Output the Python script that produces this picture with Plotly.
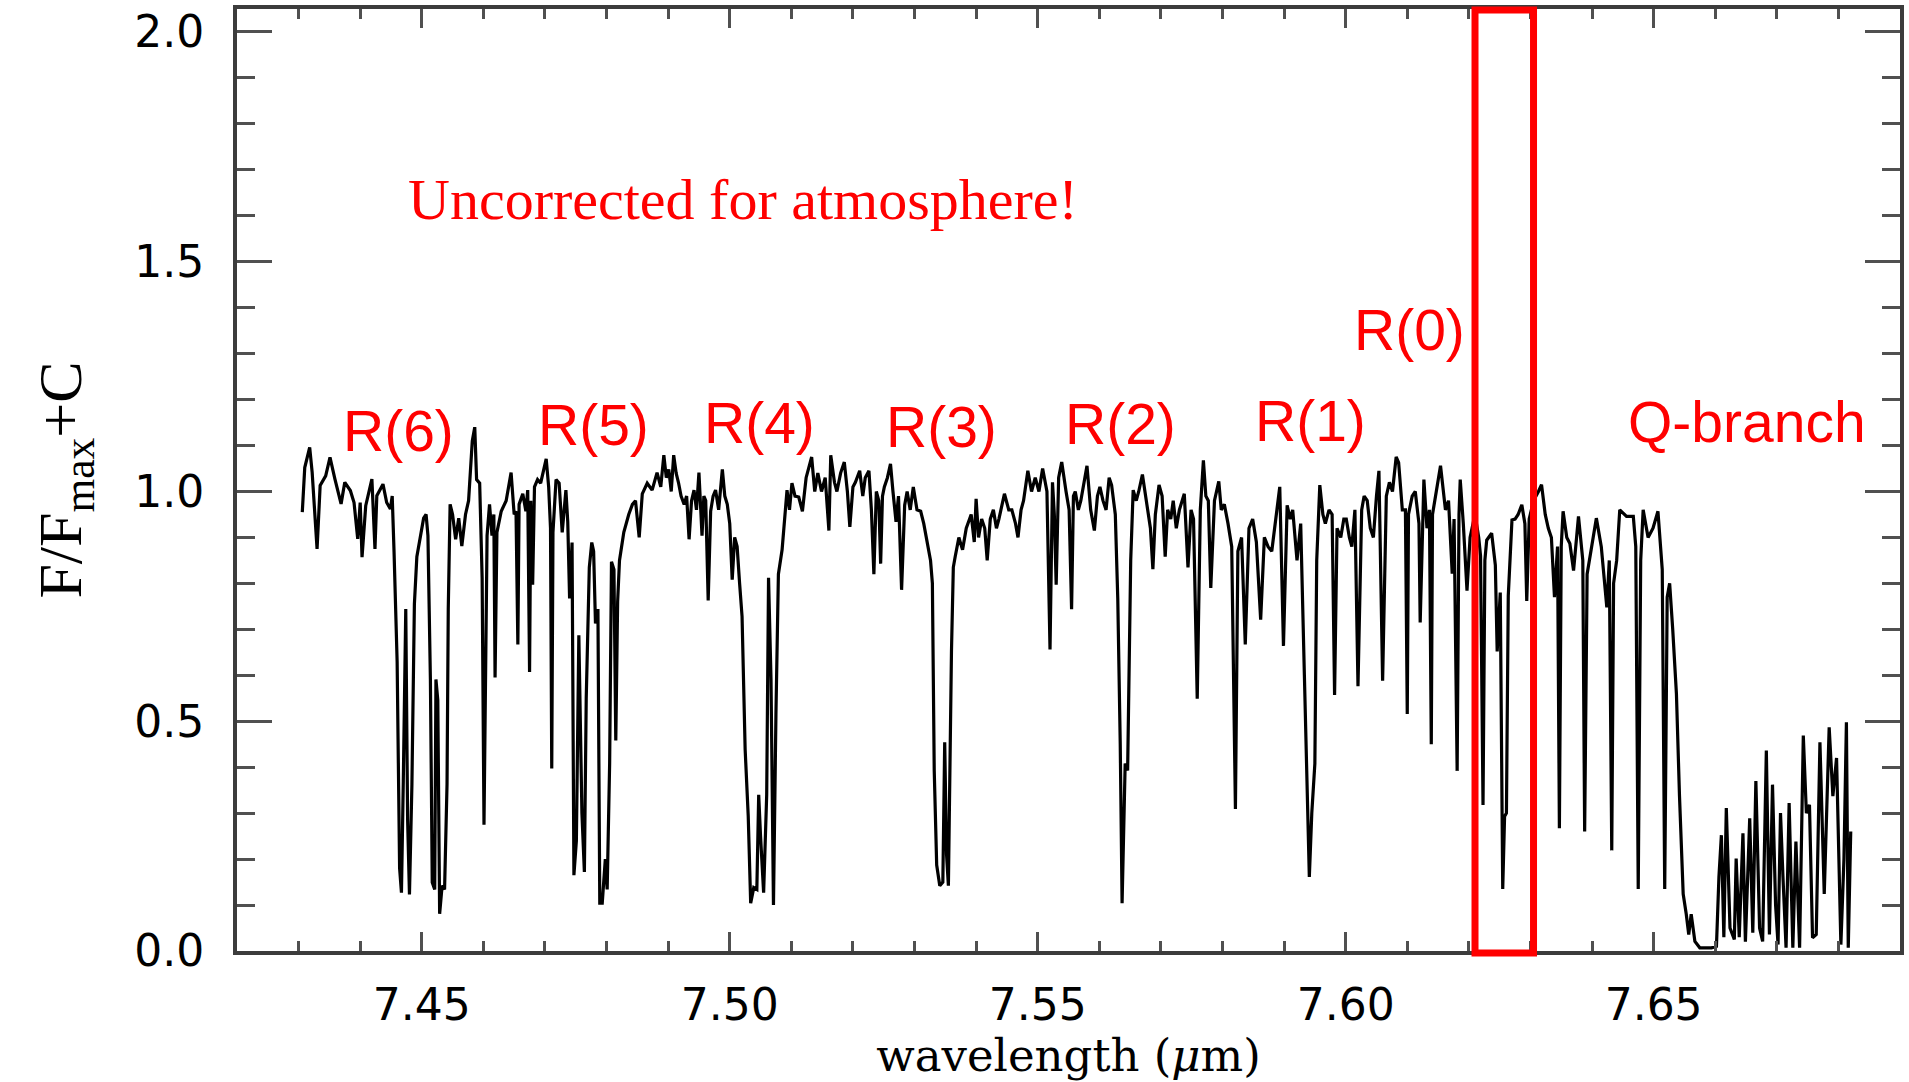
import plotly.graph_objects as go

# ---- spectrum ----
wavelength = [
    7.4306, 7.4310, 7.4318, 7.4322, 7.4330, 7.4335, 7.4344, 7.4351, 7.4359, 7.4369,
    7.4375, 7.4384, 7.4390, 7.4396, 7.4400, 7.4403, 7.4409, 7.4419, 7.4424, 7.4427,
    7.4437, 7.4443, 7.4449, 7.4452, 7.4455,
    7.4460, 7.4464, 7.4467, 7.4470, 7.4474, 7.4477, 7.4480, 7.4484, 7.4488, 7.4492,
    7.4497, 7.4503, 7.4507, 7.4510, 7.4514, 7.4517, 7.4521, 7.4523, 7.4526, 7.4529,
    7.4533, 7.4537, 7.4541, 7.4543, 7.4546, 7.4550, 7.4555, 7.4560, 7.4565, 7.4571,
    7.4576, 7.4582, 7.4586, 7.4589, 7.4594, 7.4598, 7.4601, 7.4603, 7.4606, 7.4610,
    7.4614, 7.4617, 7.4619, 7.4622, 7.4629, 7.4637, 7.4645, 7.4650, 7.4653, 7.4656,
    7.4658, 7.4664, 7.4669, 7.4672, 7.4675, 7.4677, 7.4680, 7.4683, 7.4688, 7.4693,
    7.4702, 7.4706, 7.4709, 7.4711, 7.4713, 7.4718, 7.4723, 7.4728, 7.4734, 7.4737,
    7.4740, 7.4744,
    7.4747, 7.4751, 7.4755, 7.4760, 7.4764, 7.4767, 7.4772, 7.4776, 7.4779, 7.4782,
    7.4786, 7.4789, 7.4793, 7.4798, 7.4801, 7.4805, 7.4808, 7.4812, 7.4815, 7.4818,
    7.4821, 7.4828, 7.4836, 7.4842, 7.4847, 7.4853, 7.4858, 7.4866, 7.4874, 7.4882,
    7.4888, 7.4893, 7.4897, 7.4901, 7.4905, 7.4909, 7.4913, 7.4917, 7.4921, 7.4926,
    7.4930, 7.4934, 7.4938, 7.4942, 7.4946, 7.4950, 7.4955, 7.4958, 7.4961, 7.4965,
    7.4969, 7.4973, 7.4977, 7.4982, 7.4988, 7.4992, 7.4996, 7.5000, 7.5004, 7.5008,
    7.5012, 7.5016, 7.5020,
    7.5025, 7.5030, 7.5034, 7.5039, 7.5044, 7.5047, 7.5050, 7.5055, 7.5060, 7.5063,
    7.5067, 7.5071, 7.5075, 7.5079, 7.5085, 7.5093, 7.5097, 7.5101, 7.5106, 7.5112,
    7.5118, 7.5124, 7.5133, 7.5138, 7.5143, 7.5149, 7.5155, 7.5161, 7.5164, 7.5170,
    7.5174, 7.5180, 7.5186, 7.5191, 7.5195, 7.5200, 7.5204, 7.5211, 7.5216, 7.5220,
    7.5226, 7.5230, 7.5234, 7.5238, 7.5242, 7.5245, 7.5248, 7.5251, 7.5256, 7.5261,
    7.5265, 7.5270, 7.5274, 7.5279, 7.5284, 7.5288, 7.5293, 7.5298, 7.5304, 7.5310,
    7.5315, 7.5319, 7.5326,
    7.5329, 7.5332, 7.5336, 7.5341, 7.5346, 7.5349, 7.5352, 7.5355, 7.5360, 7.5363,
    7.5366, 7.5372, 7.5378, 7.5384, 7.5392, 7.5397, 7.5400, 7.5404, 7.5409, 7.5414,
    7.5418, 7.5423, 7.5428, 7.5433, 7.5437, 7.5446, 7.5453, 7.5458, 7.5464, 7.5468,
    7.5473, 7.5477, 7.5484, 7.5490, 7.5496, 7.5502, 7.5508, 7.5515, 7.5520, 7.5524,
    7.5527, 7.5530, 7.5534, 7.5539, 7.5546, 7.5551, 7.5555, 7.5558, 7.5561, 7.5566,
    7.5570, 7.5575, 7.5580, 7.5586, 7.5592, 7.5597, 7.5601, 7.5606, 7.5611, 7.5616,
    7.5620, 7.5626,
    7.5630, 7.5634, 7.5637, 7.5642, 7.5646, 7.5651, 7.5655, 7.5660, 7.5664, 7.5670,
    7.5675, 7.5679, 7.5683, 7.5687, 7.5691, 7.5697, 7.5702, 7.5707, 7.5711, 7.5716,
    7.5720, 7.5725, 7.5730, 7.5738, 7.5744, 7.5749, 7.5753, 7.5759, 7.5764, 7.5769,
    7.5773, 7.5777, 7.5781, 7.5787, 7.5794, 7.5798, 7.5803, 7.5809, 7.5815, 7.5821,
    7.5825, 7.5831, 7.5837, 7.5843, 7.5849, 7.5855, 7.5862, 7.5868, 7.5874, 7.5880,
    7.5887, 7.5893, 7.5899, 7.5905, 7.5910, 7.5914, 7.5921, 7.5927, 7.5933,
    7.5937, 7.5941, 7.5945, 7.5950, 7.5953, 7.5958, 7.5963, 7.5967, 7.5973, 7.5978,
    7.5982, 7.5986, 7.5992, 7.5997, 7.6001, 7.6006, 7.6010, 7.6015, 7.6020, 7.6026,
    7.6030, 7.6035, 7.6040, 7.6045, 7.6050, 7.6054, 7.6060, 7.6066, 7.6071, 7.6076,
    7.6082,
    7.6086, 7.6092, 7.6097, 7.6100, 7.6102, 7.6108, 7.6113, 7.6119, 7.6121, 7.6127,
    7.6132, 7.6136, 7.6139, 7.6141, 7.6146, 7.6154, 7.6162, 7.6167, 7.6173, 7.6176,
    7.6181, 7.6184, 7.6186, 7.6191, 7.6197, 7.6202, 7.6210, 7.6216, 7.6219, 7.6223,
    7.6226, 7.6229, 7.6237, 7.6243, 7.6246, 7.6251, 7.6255, 7.6258, 7.6261, 7.6264,
    7.6270, 7.6275, 7.6280, 7.6286, 7.6291, 7.6294, 7.6298, 7.6305, 7.6313, 7.6318,
    7.6324, 7.6329, 7.6334, 7.6339, 7.6344, 7.6347, 7.6350, 7.6353, 7.6359, 7.6364,
    7.6370, 7.6378, 7.6385, 7.6388, 7.6392, 7.6399, 7.6407, 7.6415, 7.6424, 7.6428,
    7.6432, 7.6435, 7.6440, 7.6445, 7.6456, 7.6467, 7.6471, 7.6475, 7.6479, 7.6483,
    7.6491, 7.6499, 7.6507, 7.6514, 7.6518, 7.6522, 7.6526, 7.6531, 7.6537, 7.6542,
    7.6548, 7.6553, 7.6557, 7.6561, 7.6567, 7.6575, 7.6583, 7.6594, 7.6602, 7.6606,
    7.6610, 7.6614, 7.6618, 7.6624, 7.6631, 7.6634, 7.6639, 7.6645, 7.6649, 7.6656,
    7.6661, 7.6666, 7.6672, 7.6677, 7.6683, 7.6688, 7.6693, 7.6698, 7.6702, 7.6706,
    7.6710, 7.6715, 7.6720, 7.6726, 7.6731, 7.6737, 7.6743, 7.6748, 7.6753, 7.6758,
    7.6764, 7.6770, 7.6777, 7.6785, 7.6791, 7.6797, 7.6804, 7.6809, 7.6813, 7.6816,
    7.6820,
]

flux = [
    0.955, 1.052, 1.096, 1.042, 0.875, 1.013, 1.034, 1.074, 1.027, 0.973,
    1.020, 1.002, 0.976, 0.897, 0.976, 0.857, 0.969, 1.027, 0.875, 0.991,
    1.016, 0.976, 0.962, 0.990, 0.868,
    0.629, 0.180, 0.127, 0.370, 0.744, 0.286, 0.123, 0.363, 0.755, 0.858,
    0.896, 0.942, 0.950, 0.904, 0.591, 0.149, 0.134, 0.591, 0.546, 0.081,
    0.142, 0.134, 0.363, 0.744, 0.972, 0.950, 0.896, 0.942, 0.881, 0.950,
    0.980, 1.110, 1.140, 1.026, 1.018, 0.812, 0.275, 0.488, 0.904, 0.972,
    0.904, 0.950, 0.595, 0.911, 0.957, 0.980, 1.041, 0.950, 0.957, 0.667,
    0.972, 0.995, 0.957, 1.003, 0.607, 0.980, 0.797, 1.010, 1.026, 1.018,
    1.071, 1.010, 0.920, 0.397, 0.911, 1.026, 1.018, 0.911, 1.003, 0.934,
    0.767, 0.889,
    0.165, 0.240, 0.687, 0.300, 0.172, 0.550, 0.835, 0.889, 0.870, 0.713,
    0.744, 0.104, 0.104, 0.200, 0.134, 0.408, 0.847, 0.830, 0.458, 0.760,
    0.850, 0.911, 0.950, 0.972, 0.980, 0.900, 0.995, 1.018, 1.003, 1.041,
    1.010, 1.079, 1.030, 1.048, 1.000, 1.079, 1.040, 1.018, 0.990, 0.972,
    0.990, 0.896, 0.980, 1.003, 0.960, 1.041, 0.904, 0.990, 0.980, 0.763,
    0.957, 0.990, 1.003, 0.960, 1.048, 0.990, 0.972, 0.930, 0.808, 0.900,
    0.880, 0.800, 0.728,
    0.439, 0.294, 0.104, 0.138, 0.134, 0.340, 0.250, 0.127, 0.340, 0.812,
    0.591, 0.100, 0.515, 0.820, 0.873, 1.003, 0.960, 1.018, 0.990, 0.988,
    0.957, 1.030, 1.075, 1.000, 1.040, 1.000, 1.030, 0.915, 1.079, 1.020,
    1.000, 1.040, 1.064, 1.000, 0.923, 1.010, 1.020, 1.045, 0.990, 1.030,
    1.045, 0.960, 0.820, 1.000, 0.980, 0.843, 0.990, 1.010, 1.030, 1.060,
    1.000, 0.934, 0.990, 0.786, 0.970, 1.000, 0.960, 1.010, 0.960, 0.957,
    0.930, 0.900, 0.850,
    0.800, 0.393, 0.187, 0.142, 0.150, 0.454, 0.210, 0.142, 0.652, 0.835,
    0.858, 0.900, 0.873, 0.920, 0.950, 0.890, 0.984, 0.900, 0.940, 0.920,
    0.850, 0.940, 0.960, 0.920, 0.940, 0.995, 0.960, 0.960, 0.930, 0.900,
    0.960, 0.980, 1.045, 1.000, 1.030, 1.000, 1.050, 1.000, 0.656, 1.020,
    0.950, 0.797, 1.030, 1.064, 1.000, 0.960, 0.744, 0.990, 1.000, 0.960,
    0.980, 1.020, 1.056, 0.960, 0.915, 0.990, 1.010, 0.980, 0.960, 1.030,
    1.014, 0.950,
    0.767, 0.450, 0.104, 0.408, 0.393, 0.850, 1.003, 0.980, 1.000, 1.037,
    0.990, 0.960, 0.920, 0.831, 0.950, 1.014, 0.990, 0.858, 0.960, 0.940,
    0.980, 0.920, 0.960, 0.995, 0.835, 0.960, 0.940, 0.549, 0.960, 1.068,
    0.990, 0.980, 0.790, 0.980, 1.022, 0.960, 0.972, 0.930, 0.880, 0.309,
    0.870, 0.900, 0.667, 0.920, 0.940, 0.890, 0.721, 0.900, 0.880, 0.870,
    0.950, 1.010, 0.664, 0.970, 0.940, 0.960, 0.850, 0.930, 0.599,
    0.350, 0.161, 0.300, 0.408, 0.850, 1.014, 0.950, 0.930, 0.960, 0.950,
    0.557, 0.920, 0.900, 0.940, 0.940, 0.900, 0.880, 0.960, 0.576, 0.960,
    0.990, 0.980, 0.920, 0.900, 0.990, 1.045, 0.588, 0.990, 1.020, 1.000,
    1.075,
    1.063, 0.960, 0.960, 0.516, 0.950, 0.990, 1.000, 0.930, 0.715, 1.026,
    0.920, 0.960, 0.450, 0.950, 0.990, 1.056, 0.960, 0.980, 0.821, 0.940,
    0.392, 0.950, 1.026, 0.930, 0.784, 0.900, 0.950, 0.900, 0.860, 0.318,
    0.850, 0.894, 0.909, 0.840, 0.652, 0.780, 0.135, 0.293, 0.300, 0.773,
    0.938, 0.940, 0.950, 0.971, 0.930, 0.762, 0.940, 0.980, 1.000, 1.015,
    0.950, 0.920, 0.900, 0.770, 0.880, 0.267, 0.880, 0.957, 0.900, 0.887,
    0.828, 0.946, 0.850, 0.260, 0.820, 0.880, 0.942, 0.880, 0.748, 0.850,
    0.219, 0.800, 0.850, 0.960, 0.946, 0.946, 0.880, 0.135, 0.850, 0.960,
    0.900, 0.920, 0.957, 0.830, 0.135, 0.770, 0.800, 0.700, 0.560, 0.337,
    0.124, 0.080, 0.036, 0.080, 0.021, 0.007, 0.007, 0.007, 0.010, 0.161,
    0.252, 0.030, 0.311, 0.050, 0.025, 0.201, 0.030, 0.256, 0.020, 0.289,
    0.040, 0.370, 0.050, 0.021, 0.436, 0.036, 0.362, 0.100, 0.014, 0.300,
    0.161, 0.007, 0.322, 0.007, 0.238, 0.007, 0.469, 0.300, 0.318, 0.029,
    0.036, 0.454, 0.124, 0.487, 0.337, 0.420, 0.014, 0.200, 0.498, 0.007,
    0.260,
]

# ---- line labels ----
line_labels = ["R(6)", "R(5)", "R(4)", "R(3)", "R(2)", "R(1)", "R(0)", "Q-branch"]
label_wavelength = [7.4462, 7.4778, 7.5048, 7.5344, 7.5635, 7.5943, 7.6103, 7.6652]
label_flux = [1.131, 1.144, 1.149, 1.140, 1.147, 1.153, 1.351, 1.151]

note_text = "Uncorrected for atmosphere!"
note_wavelength = 7.5021
note_flux = 1.635

# highlighted R(0) window (wavelength bounds), spans full flux range
window = [7.6210, 7.6305]

x_range = [7.42, 7.69]
y_range = [0.0, 2.05]

fig = go.Figure()
fig.add_trace(go.Scatter(
    x=wavelength, y=flux, mode="lines",
    line=dict(color="black", width=3.2),
    showlegend=False, hoverinfo="skip",
))

for txt, lx, ly in zip(line_labels, label_wavelength, label_flux):
    fig.add_annotation(x=lx, y=ly, text=txt, showarrow=False,
                       xanchor="center", yanchor="middle",
                       font=dict(family="Liberation Sans, Arial", size=57, color="red"))

fig.add_annotation(x=note_wavelength, y=note_flux, text=note_text, showarrow=False,
                   xanchor="center", yanchor="middle",
                   font=dict(family="Liberation Serif, Times New Roman", size=58, color="red"))

# rectangle in paper coordinates derived from the data window
px0 = (window[0] - x_range[0]) / (x_range[1] - x_range[0])
px1 = (window[1] - x_range[0]) / (x_range[1] - x_range[0])
fig.add_shape(type="rect", xref="paper", yref="paper",
              x0=px0, x1=px1, y0=-0.002, y1=0.999,
              line=dict(color="red", width=7), fillcolor="rgba(0,0,0,0)", layer="above")

axis_color = "#3c3c3c"
tick_font = dict(family="DejaVu Sans", size=44, color="black")

fig.update_xaxes(
    range=x_range, showgrid=False, zeroline=False,
    showline=True, linecolor=axis_color, linewidth=4, mirror="allticks",
    ticks="inside", ticklen=19, tickwidth=3, tickcolor="#505050",
    tick0=7.45, dtick=0.05, tickformat=".2f",
    tickfont=tick_font, ticklabelstandoff=12,
    minor=dict(ticks="inside", ticklen=10, tickwidth=3, tickcolor="#505050", dtick=0.01, showgrid=False),
    title=dict(text="wavelength (<i>μ</i>m)",
               font=dict(family="DejaVu Serif", size=45, color="black"), standoff=16),
)
fig.update_yaxes(
    range=y_range, showgrid=False, zeroline=False,
    showline=True, linecolor=axis_color, linewidth=4, mirror="allticks",
    ticks="inside", ticklen=35, tickwidth=3, tickcolor="#505050",
    tick0=0, dtick=0.5, tickformat=".1f",
    tickfont=tick_font, ticklabelstandoff=20,
    minor=dict(ticks="inside", ticklen=18, tickwidth=3, tickcolor="#505050", dtick=0.1, showgrid=False),
    title=dict(text="F/F<sub>max</sub>+C",
               font=dict(family="Liberation Serif", size=62, color="black"), standoff=34),
)

fig.update_layout(
    width=1909, height=1082, autosize=False,
    margin=dict(l=237, r=5, t=9, b=129),
    plot_bgcolor="white", paper_bgcolor="white",
)

fig.write_html("out.html")
